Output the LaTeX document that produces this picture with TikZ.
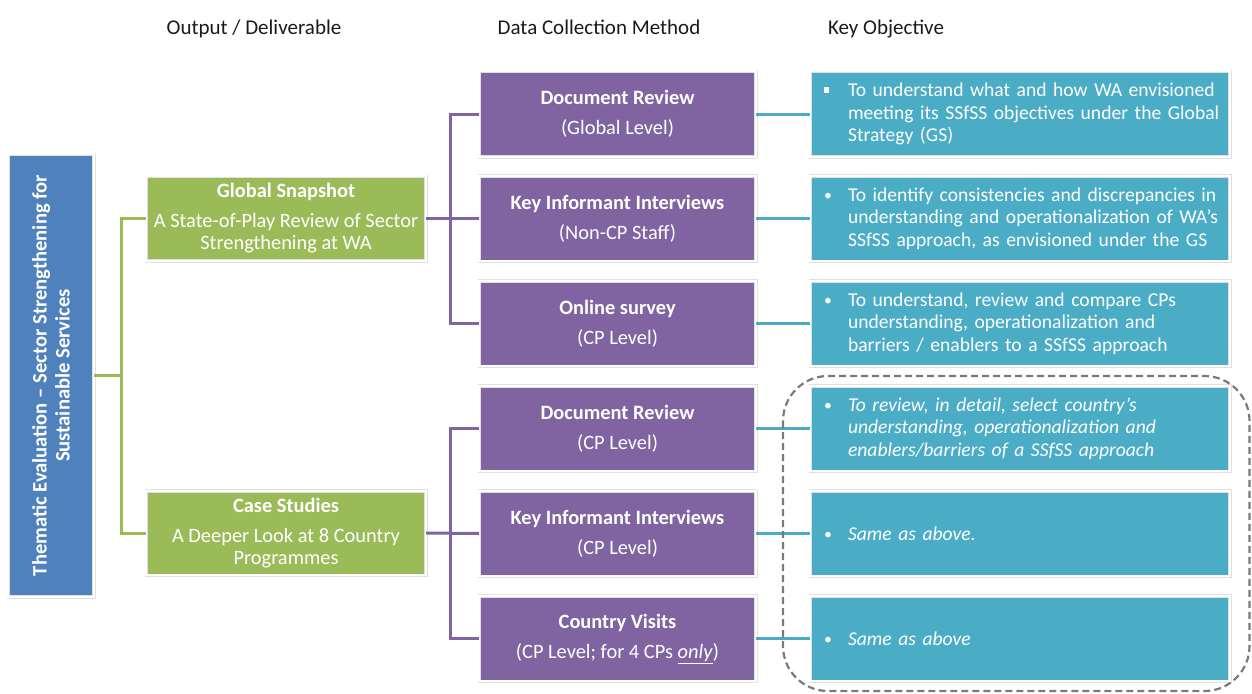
\documentclass[tikz,border=0pt]{standalone}
\usepackage{fontspec}
\setmainfont{Carlito}
\definecolor{cblue}{HTML}{4F81BD}
\definecolor{cgreen}{HTML}{9BBB59}
\definecolor{cpurple}{HTML}{8064A2}
\definecolor{cteal}{HTML}{4BACC6}
\definecolor{chead}{HTML}{1A1A1A}
\definecolor{cdash}{HTML}{7A7A7A}
\newcommand{\sqbul}{\rule[0.2em]{0.28em}{0.28em}}
\newcommand{\smbul}{\raisebox{0.05em}{\scalebox{0.8}{•}}}
\newcommand{\objtext}[2]{\noindent\hspace*{4pt}\parbox[t]{24pt}{#1}\parbox[t]{372pt}{\raggedright #2}}
\begin{document}
\begin{tikzpicture}[x=1pt,y=-1pt,
  every node/.style={font=\fontsize{20.4}{22}\selectfont},
  box/.style={rectangle, draw=black!12, double=white, double distance=2.4pt, line width=0.55pt, text=white, inner sep=0pt, align=center},
  bluebox/.style={box, fill=cblue, minimum width=85.5pt, minimum height=442.5pt},
  greenbox/.style={box, fill=cgreen, minimum width=279.5pt, minimum height=84.5pt},
  purplebox/.style={box, fill=cpurple, minimum width=276.5pt, minimum height=85.5pt},
  tealbox/.style={box, fill=cteal, minimum width=419.5pt, minimum height=85.5pt, text width=400pt, inner xsep=9.75pt, align=left, font=\fontsize{19.6}{22.5}\selectfont},
  header/.style={text=chead, font=\fontsize{21}{24}\selectfont, anchor=base},
  gline/.style={draw=cgreen, line width=3pt},
  pline/.style={draw=cpurple, line width=3pt},
  tline/.style={draw=cteal, line width=3pt},
  groupline/.style={draw=cdash, line width=2.2pt, dash pattern=on 7pt off 4pt, rounded corners=45pt}
]
\useasboundingbox (0,0) rectangle (1252,693);

% headers
\node[header] (h1) at (254,34.5) {Output / Deliverable};
\node[header] (h2) at (599,34.5) {Data Collection Method};
\node[header] (h3) at (886,34.5) {Key Objective};

% blue root
\node[bluebox] (root) at (51,375.5) {};
\node[rotate=90, text=white, align=center, font=\bfseries\fontsize{20.6}{23}\selectfont] (roottext) at (root.center) {Thematic Evaluation – Sector Strengthening for\\Sustainable Services};

% green
\node[greenbox] (gs) at (286,218.5) {\textbf{Global Snapshot}\\[8pt]A State-of-Play Review of Sector\\Strengthening at WA};
\node[greenbox] (cs) at (286,533) {\textbf{Case Studies}\\[8pt]A Deeper Look at 8 Country\\Programmes};

% purple
\node[purplebox] (dr1) at (617.5,114) {\textbf{Document Review}\\[8pt](Global Level)};
\node[purplebox] (kii1) at (617.5,218.5) {\textbf{Key Informant Interviews}\\[8pt](Non-CP Staff)};
\node[purplebox] (os1) at (617.5,323.5) {\textbf{Online survey}\\[8pt](CP Level)};
\node[purplebox] (dr2) at (617.5,428.5) {\textbf{Document Review}\\[8pt](CP Level)};
\node[purplebox] (kii2) at (617.5,533.5) {\textbf{Key Informant Interviews}\\[8pt](CP Level)};
\node[purplebox] (cv2) at (617.5,638.5) {\textbf{Country Visits}\\[8pt](CP Level; for 4 CPs \underline{\textit{only}})};

% teal
\node[tealbox] (t1) at (1020,114) {\objtext{\sqbul}{To understand what and how WA envisioned\\meeting its SSfSS objectives under the Global\\Strategy (GS)}};
\node[tealbox] (t2) at (1020,218.5) {\objtext{\smbul}{To identify consistencies and discrepancies in\\understanding and operationalization of WA’s\\SSfSS approach, as envisioned under the GS}};
\node[tealbox] (t3) at (1020,323.5) {\objtext{\smbul}{To understand, review and compare CPs\\understanding, operationalization and\\barriers / enablers to a SSfSS approach}};
\node[tealbox] (t4) at (1020,428.5) {\objtext{\smbul}{\itshape To review, in detail, select country’s\\understanding, operationalization and\\enablers/barriers of a SSfSS approach}};
\node[tealbox] (t5) at (1020,533.5) {\objtext{\smbul}{\itshape Same as above.}};
\node[tealbox] (t6) at (1020,638.5) {\objtext{\smbul}{\itshape Same as above}};

% connectors
\draw[gline] (root.east) -- ++(27,0) coordinate (gj) |- (gs.west);
\draw[gline] (gj) |- (cs.west);
\draw[pline] (gs.east) -- (kii1.west);
\draw[pline] (dr1.west) -- ++(-28,0) |- (os1.west);
\draw[pline] (cs.east) -- (kii2.west);
\draw[pline] (dr2.west) -- ++(-28,0) |- (cv2.west);
\draw[tline] (dr1.east) -- (t1.west);
\draw[tline] (kii1.east) -- (t2.west);
\draw[tline] (os1.east) -- (t3.west);
\draw[tline] (dr2.east) -- (t4.west);
\draw[tline] (kii2.east) -- (t5.west);
\draw[tline] (cv2.east) -- (t6.west);

% dashed group
\draw[groupline] (783,376) rectangle (1249.5,691);
\end{tikzpicture}
\end{document}
